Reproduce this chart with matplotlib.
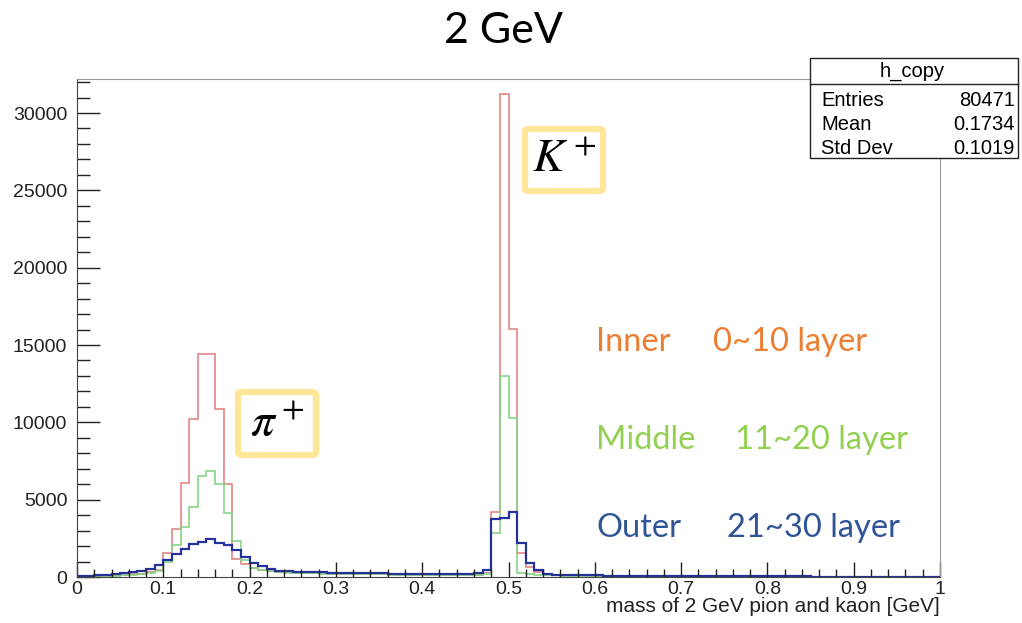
import numpy as np
import matplotlib
matplotlib.use("Agg")
import matplotlib.pyplot as plt
from matplotlib.patches import Rectangle, FancyBboxPatch
from matplotlib.ticker import MultipleLocator

# bin contents, 100 bins of width 0.01 from 0 to 1
inner = [
    20, 40, 60, 80, 100, 130, 170, 220, 300, 450,
    1570, 3100, 6060, 10200, 14400, 14400, 10870, 6010, 1150, 850,
    600, 480, 400, 340, 300, 280, 260, 240, 230, 220,
    210, 200, 190, 180, 175, 170, 165, 160, 155, 150,
    145, 140, 140, 135, 135, 140, 150, 250, 4180, 31240,
    16040, 1530, 650, 300, 180, 140, 120, 110, 100, 95,
    90, 85, 80, 75, 70, 68, 65, 62, 60, 58,
    55, 52, 50, 48, 46, 44, 42, 40, 38, 36,
    35, 34, 33, 32, 31, 30, 29, 28, 27, 26,
    25, 24, 23, 22, 21, 20, 19, 18, 17, 16]
middle = [
    15, 30, 50, 70, 90, 115, 150, 200, 270, 400,
    950, 2070, 3250, 4550, 6550, 6840, 6010, 4160, 2350, 1100,
    600, 450, 380, 330, 290, 270, 250, 235, 225, 215,
    205, 195, 185, 178, 172, 166, 160, 155, 150, 145,
    140, 135, 132, 130, 130, 135, 140, 180, 2830, 13020,
    10260, 260, 200, 150, 120, 105, 95, 90, 85, 80,
    78, 75, 72, 70, 68, 65, 62, 60, 58, 55,
    52, 50, 48, 46, 44, 42, 40, 38, 36, 35,
    34, 33, 32, 31, 30, 29, 28, 27, 26, 25,
    24, 23, 22, 21, 20, 19, 18, 17, 16, 15]
outer = [
    40, 70, 110, 150, 200, 260, 330, 420, 520, 750,
    1100, 1490, 1810, 2130, 2290, 2440, 2200, 2050, 1750, 1310,
    925, 710, 500, 410, 360, 340, 330, 315, 300, 290,
    280, 270, 260, 250, 240, 230, 220, 210, 200, 190,
    180, 175, 170, 165, 165, 170, 260, 450, 3750, 3800,
    4180, 2220, 880, 450, 210, 160, 140, 125, 115, 105,
    100, 95, 90, 85, 80, 76, 72, 68, 65, 62,
    60, 57, 54, 52, 50, 48, 46, 44, 42, 40,
    38, 36, 35, 34, 33, 32, 31, 30, 29, 28,
    27, 26, 25, 24, 23, 22, 21, 20, 19, 18]
edges = np.linspace(0, 1, len(inner) + 1)

stats_names = ["Entries", "Mean", "Std Dev"]
stats_values = ["80471", "0.1734", "0.1019"]

W, H = 1022, 623
fig = plt.figure(figsize=(W / 100, H / 100), dpi=100)
ax = fig.add_axes([77 / W, 1 - 577 / H, 863 / W, (577 - 79) / H])

ax.stairs(inner, edges, color="#e08585", lw=1.2)
ax.stairs(middle, edges, color="#88d488", lw=1.2)
ax.stairs(outer, edges, color="#26329c", lw=1.6)

ax.set_xlim(0, 1)
ax.set_ylim(0, 32200)
ax.xaxis.set_major_locator(MultipleLocator(0.1))
ax.xaxis.set_minor_locator(MultipleLocator(0.02))
ax.yaxis.set_major_locator(MultipleLocator(5000))
ax.yaxis.set_minor_locator(MultipleLocator(1000))
ax.xaxis.set_major_formatter(plt.FuncFormatter(lambda v, p: "0" if v == 0 else ("1" if v == 1 else f"{v:.1f}")))

ax.tick_params(axis="x", which="major", direction="in", length=11, width=1, pad=3, labelsize=14, colors="#222222")
ax.tick_params(axis="x", which="minor", direction="in", length=5.5, width=1, colors="#222222")
ax.tick_params(axis="y", which="major", direction="in", length=16.5, width=1, pad=7, labelsize=14, colors="#222222")
ax.tick_params(axis="y", which="minor", direction="in", length=9, width=1, colors="#222222")
for s in ["left", "bottom"]:
    ax.spines[s].set_color("#444444")
for s in ["top", "right"]:
    ax.spines[s].set_color("#999999")
for lab in ax.get_xticklabels() + ax.get_yticklabels():
    lab.set_fontfamily("Liberation Sans")

fig.text(940 / W, 1 - 606 / H, "mass of 2 GeV pion and kaon [GeV]", ha="right", va="center",
         fontsize=15, family="Liberation Sans", color="#222222")

# title
fig.text(503 / W, 1 - 31 / H, "2 GeV", ha="center", va="center", fontsize=31, family="Lato")

# stats box
fig.patches.append(Rectangle((810 / W, 1 - 158 / H), 208 / W, 100 / H, transform=fig.transFigure,
                             fc="white", ec="#222222", lw=1, zorder=5))
fig.lines.append(plt.Line2D([810 / W, 1018 / W], [1 - 84 / H, 1 - 84 / H], transform=fig.transFigure,
                            color="#222222", lw=1, zorder=6))
fig.text(912 / W, 1 - 71 / H, "h_copy", ha="center", va="center", fontsize=14.5,
         family="Liberation Sans", zorder=7)
for i, (n, v) in enumerate(zip(stats_names, stats_values)):
    y = 1 - (100 + 24 * i) / H
    fig.text(821 / W, y, n, ha="left", va="center", fontsize=14.5, family="Liberation Sans", zorder=7)
    fig.text(1015 / W, y, v, ha="right", va="center", fontsize=14.5, family="Liberation Sans", zorder=7)

# particle labels in yellow boxes
for (x0, y0, x1, y1), lab in [((238, 392, 316, 455), r"$\pi^+$"), ((525, 129, 603, 191), r"$K^+$")]:
    fig.patches.append(FancyBboxPatch((x0 / W, 1 - y1 / H), (x1 - x0) / W, (y1 - y0) / H,
                                      boxstyle="round,pad=0,rounding_size=0.004", transform=fig.transFigure,
                                      fc="white", ec="#ffe699", lw=4.5, zorder=5))
    fig.text((x0 + x1) / 2 / W, 1 - (y0 + y1) / 2 / H, lab, ha="center", va="center", fontsize=34,
             math_fontfamily="stix", zorder=7)

# layer labels
layers = [("Inner", "0~10 layer", "#ed7d31", 342, 713),
          ("Middle", "11~20 layer", "#92d050", 440, 735),
          ("Outer", "21~30 layer", "#2f5597", 528, 727)]
for name, rng, col, yy, xr in layers:
    fig.text(596 / W, 1 - yy / H, name, ha="left", va="center", fontsize=23.5, family="Lato", color=col)
    fig.text(xr / W, 1 - yy / H, rng, ha="left", va="center", fontsize=23.5, family="Lato", color=col)

fig.savefig("out.png", dpi=100)
